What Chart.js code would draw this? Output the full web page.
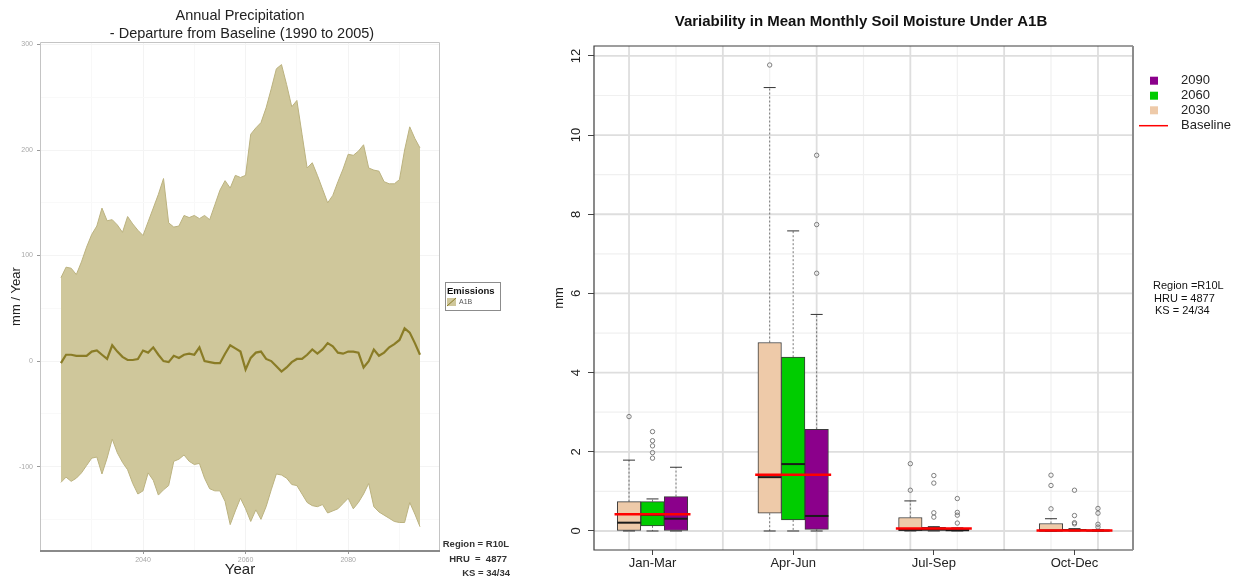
<!DOCTYPE html>
<html>
<head>
<meta charset="utf-8">
<script src="https://cdn.jsdelivr.net/npm/chart.js@4.4.0/dist/chart.umd.min.js"></script>
<style>
  body { margin: 0; background: #fff; width: 1247px; height: 582px; overflow: hidden; position: relative; }
  canvas { position: absolute; top: 0; }
  #precip { left: 0; width: 540px; height: 582px; }
  #soil { left: 540px; width: 707px; height: 582px; }
</style>
</head>
<body>
<canvas id="precip" width="540" height="582"></canvas>
<canvas id="soil" width="707" height="582"></canvas>
<script>
// ---- left chart: annual precipitation departure (A1B) ----
const years = [2024, 2025, 2026, 2027, 2028, 2029, 2030, 2031, 2032, 2033, 2034, 2035, 2036, 2037, 2038, 2039,
  2040, 2041, 2042, 2043, 2044, 2045, 2046, 2047, 2048, 2049, 2050, 2051, 2052, 2053, 2054, 2055, 2056, 2057,
  2058, 2059, 2060, 2061, 2062, 2063, 2064, 2065, 2066, 2067, 2068, 2069, 2070, 2071, 2072, 2073, 2074, 2075,
  2076, 2077, 2078, 2079, 2080, 2081, 2082, 2083, 2084, 2085, 2086, 2087, 2088, 2089, 2090, 2091, 2092, 2093, 2094]
const upperA1B = [79, 89, 88, 82, 94, 108, 120, 128, 145, 133, 134, 129, 122, 137, 130, 124,
  119, 132, 145, 158, 173, 131, 127, 128, 138, 136, 138, 135, 138, 134, 148, 162, 171, 164,
  176, 174, 176, 215, 221, 226, 240, 258, 277, 281, 262, 241, 247, 215, 183, 188, 176, 163,
  150, 157, 170, 182, 196, 195, 199, 205, 183, 181, 180, 170, 168, 168, 172, 200, 222, 211, 202]
const meanA1B = [-2, 6, 6, 5, 5, 5, 9, 10, 6, 2, 15, 9, 4, 1, 1, 2,
  10, 8, 13, 6, 0, -1, 5, 3, 6, 7, 6, 13, 0, -1, -2, -2, 7, 15,
  12, 9, -8, 3, 8, 9, 2, 0, -5, -10, -6, -1, 2, 2, 6, 11, 7, 11,
  17, 14, 8, 7, 9, 9, 8, -6, 0, 11, 5, 8, 13, 16, 20, 31, 27, 17, 6]
const lowerA1B = [-115, -110, -114, -111, -106, -99, -92, -91, -107, -92, -74, -87, -96, -103, -116, -126,
  -123, -106, -113, -127, -122, -118, -95, -93, -89, -95, -98, -97, -111, -121, -123, -123, -133, -155,
  -142, -130, -140, -152, -141, -150, -138, -122, -107, -108, -111, -117, -118, -126, -134, -137, -138, -136,
  -144, -142, -140, -135, -130, -140, -134, -126, -116, -138, -143, -146, -149, -152, -153, -153, -134, -145, -157]
const precipXTicks = [2030, 2040, 2050, 2060, 2070, 2080, 2090]
const precipYTicks = [-150, -100, -50, 0, 50, 100, 150, 200, 250, 300]

// ---- right chart: soil moisture box plots ----
const seasons = ['Jan-Mar', 'Apr-Jun', 'Jul-Sep', 'Oct-Dec']
const periods = ['2030', '2060', '2090']
const whiskLo2030 = [0, 0, 0, 0]
const q1_2030 = [0, 0.45, 0, 0]
const med2030 = [0.21, 1.36, 0.03, 0.01]
const q3_2030 = [0.74, 4.76, 0.34, 0.19]
const whiskHi2030 = [1.79, 11.2, 0.76, 0.31]
const out2030 = [[2.89], [11.77], [1.70, 1.03], [1.41, 1.15, 0.56]]
const whiskLo2060 = [0, 0, 0, 0]
const q1_2060 = [0.13, 0.28, 0, 0]
const med2060 = [0.41, 1.69, 0.04, 0.02]
const q3_2060 = [0.74, 4.39, 0.09, 0.04]
const whiskHi2060 = [0.81, 7.58, 0.11, 0.06]
const out2060 = [[2.51, 2.28, 2.15, 1.98, 1.84], [], [1.40, 1.21, 0.46, 0.35], [1.03, 0.39, 0.21, 0.18]]
const whiskLo2090 = [0, 0, 0, 0]
const q1_2090 = [0, 0.04, 0, 0]
const med2090 = [0.31, 0.38, 0.02, 0.01]
const q3_2090 = [0.87, 2.57, 0.05, 0.02]
const whiskHi2090 = [1.61, 5.47, 0.08, 0.03]
const out2090 = [[], [9.49, 7.74, 6.51], [0.82, 0.47, 0.40, 0.20], [0.57, 0.45, 0.17, 0.10]]
const baseline = [0.42, 1.42, 0.06, 0.01]
const soilYTicks = [0, 2, 4, 6, 8, 10, 12]

Chart.defaults.font.family = '"Liberation Sans", Arial, sans-serif'
Chart.defaults.animation = false

// ================= left chart =================
const toXY = (vals) => years.map((yr, i) => ({ x: yr, y: vals[i] }))

const precipDeco = {
  id: 'precipDeco',
  afterDraw(chart) {
    const ctx = chart.ctx
    const a = chart.chartArea
    ctx.save()
    // panel border
    ctx.strokeStyle = '#c4c4c4'
    ctx.lineWidth = 1
    ctx.beginPath()
    ctx.moveTo(a.left + 0.5, a.bottom)
    ctx.lineTo(a.left + 0.5, a.top + 0.5)
    ctx.lineTo(a.right - 0.5, a.top + 0.5)
    ctx.lineTo(a.right - 0.5, a.bottom)
    ctx.stroke()
    ctx.strokeStyle = '#8a8a8a'
    ctx.lineWidth = 2
    ctx.beginPath()
    ctx.moveTo(a.left, a.bottom)
    ctx.lineTo(a.right, a.bottom)
    ctx.stroke()

    // title
    ctx.fillStyle = '#222'
    ctx.textAlign = 'center'
    ctx.textBaseline = 'middle'
    ctx.font = '14.5px "Liberation Sans", Arial, sans-serif'
    ctx.fillText('Annual Precipitation', 240, 16)
    ctx.fillText('- Departure from Baseline (1990 to 2005)', 242, 34)

    // legend box
    ctx.strokeStyle = '#8c8c8c'
    ctx.lineWidth = 1
    ctx.strokeRect(445.5, 282.5, 55, 28)
    ctx.textAlign = 'left'
    ctx.fillStyle = '#111'
    ctx.font = 'bold 9.5px "Liberation Sans", Arial, sans-serif'
    ctx.fillText('Emissions', 447, 291)
    ctx.fillStyle = '#cfc79b'
    ctx.fillRect(447, 298, 9, 8)
    ctx.strokeStyle = '#8a7c26'
    ctx.beginPath()
    ctx.moveTo(447, 306)
    ctx.lineTo(456, 298)
    ctx.stroke()
    ctx.fillStyle = '#555'
    ctx.font = '7px "Liberation Sans", Arial, sans-serif'
    ctx.fillText('A1B', 459, 302.5)

    // notes
    ctx.fillStyle = '#333'
    ctx.textAlign = 'right'
    ctx.font = 'bold 9.5px "Liberation Sans", Arial, sans-serif'
    ctx.fillText('Region = R10L', 509, 544)
    ctx.fillText('HRU  =  4877', 507, 559)
    ctx.fillText('KS = 34/34', 510, 573)
    ctx.restore()
  }
}

new Chart(document.getElementById('precip'), {
  type: 'line',
  data: {
    datasets: [
      {
        label: 'upper',
        data: toXY(upperA1B),
        borderColor: '#bbb27f',
        borderWidth: 1,
        backgroundColor: '#cfc79b',
        fill: { target: 2 },
        pointRadius: 0,
        order: 2
      },
      {
        label: 'A1B',
        data: toXY(meanA1B),
        borderColor: '#8a7c26',
        borderWidth: 2.2,
        fill: false,
        pointRadius: 0,
        order: 0
      },
      {
        label: 'lower',
        data: toXY(lowerA1B),
        borderColor: '#bbb27f',
        borderWidth: 1,
        fill: false,
        pointRadius: 0,
        order: 1
      }
    ]
  },
  options: {
    responsive: false,
    layout: { padding: { top: 42, right: 100, left: 0, bottom: 0 } },
    plugins: { legend: { display: false }, tooltip: { enabled: false } },
    scales: {
      x: {
        type: 'linear',
        min: 2019.92,
        max: 2097.9,
        afterBuildTicks: (s) => { s.ticks = precipXTicks.map(v => ({ value: v })) },
        afterFit: (s) => { s.height = 31 },
        ticks: {
          callback: (v) => (v % 20 === 0 ? String(v) : ''),
          font: { size: 7 },
          color: '#a8a8a8',
          padding: 2,
          maxRotation: 0,
          autoSkip: false
        },
        grid: {
          color: (c) => (c.tick && c.tick.value % 20 === 0 ? '#f3f3f3' : '#f8f8f8'),
          tickColor: (c) => (c.tick && c.tick.value % 20 === 0 ? '#999' : 'rgba(0,0,0,0)'),
          tickLength: 3
        },
        border: { display: false },
        title: { display: true, text: 'Year', font: { size: 15 }, color: '#222', padding: { top: 0, bottom: 3 } }
      },
      y: {
        min: -180,
        max: 302.4,
        afterBuildTicks: (s) => { s.ticks = precipYTicks.map(v => ({ value: v })) },
        afterFit: (s) => { s.width = 40 },
        ticks: {
          callback: (v) => (v % 100 === 0 ? String(v) : ''),
          font: { size: 7 },
          color: '#a8a8a8',
          padding: 4
        },
        grid: {
          color: (c) => (c.tick && c.tick.value % 100 === 0 ? '#f4f4f4' : '#f9f9f9'),
          tickColor: (c) => (c.tick && c.tick.value % 100 === 0 ? '#999' : 'rgba(0,0,0,0)'),
          tickLength: 3
        },
        border: { display: false },
        title: { display: true, text: 'mm / Year', font: { size: 13 }, color: '#222', padding: { top: 9, bottom: 0 } }
      }
    }
  },
  plugins: [precipDeco]
})

// ================= right chart =================
const offsets = [-0.167, 0, 0.167]
const boxColors = ['#eecaa9', '#00cc00', '#8b008b']
const boxW = 23.5
const stats = [
  { lo: whiskLo2030, q1: q1_2030, med: med2030, q3: q3_2030, hi: whiskHi2030, out: out2030 },
  { lo: whiskLo2060, q1: q1_2060, med: med2060, q3: q3_2060, hi: whiskHi2060, out: out2060 },
  { lo: whiskLo2090, q1: q1_2090, med: med2090, q3: q3_2090, hi: whiskHi2090, out: out2090 }
]

const boxSets = stats.map((s, p) => ({
  type: 'bar',
  label: periods[p],
  data: seasons.map((_, i) => ({ x: i + offsets[p], y: [s.q1[i], s.q3[i]] })),
  backgroundColor: boxColors[p],
  borderColor: '#3a3a3a',
  borderWidth: 1,
  borderSkipped: false,
  barThickness: boxW,
  grouped: false,
  order: 2
}))
const outlierSets = stats.map((s, p) => ({
  type: 'scatter',
  label: periods[p] + ' outliers',
  data: s.out.flatMap((vals, i) => vals.map(v => ({ x: i + offsets[p], y: v }))),
  pointRadius: 2.2,
  pointBackgroundColor: 'rgba(0,0,0,0)',
  pointBorderColor: '#707070',
  pointBorderWidth: 0.9,
  showLine: false,
  order: 1
}))

const soilDeco = {
  id: 'soilDeco',
  beforeDatasetsDraw(chart) {
    const { ctx, chartArea: a, scales: { x, y } } = chart
    ctx.save()
    // light grid first, then stronger grid
    const vMinor = [0.167, 0.833, 1.5, 2.167, 2.833]
    const vMajor = [-0.167, 0.5, 1.167, 1.833, 2.5, 3.167]
    ctx.strokeStyle = '#f0f0f0'
    ctx.lineWidth = 1.2
    vMinor.forEach(v => {
      const px = x.getPixelForValue(v)
      ctx.beginPath(); ctx.moveTo(px, a.top); ctx.lineTo(px, a.bottom); ctx.stroke()
    })
    for (let v = 1; v <= 11; v += 2) {
      const py = y.getPixelForValue(v)
      ctx.beginPath(); ctx.moveTo(a.left, py); ctx.lineTo(a.right, py); ctx.stroke()
    }
    ctx.strokeStyle = '#dedede'
    ctx.lineWidth = 1.8
    vMajor.forEach(v => {
      const px = x.getPixelForValue(v)
      ctx.beginPath(); ctx.moveTo(px, a.top); ctx.lineTo(px, a.bottom); ctx.stroke()
    })
    soilYTicks.forEach(v => {
      const py = y.getPixelForValue(v)
      ctx.beginPath(); ctx.moveTo(a.left, py); ctx.lineTo(a.right, py); ctx.stroke()
    })
    ctx.restore()
  },
  afterDatasetsDraw(chart) {
    const { ctx, scales: { x, y } } = chart
    ctx.save()
    stats.forEach((s, p) => {
      seasons.forEach((_, i) => {
        const cx = x.getPixelForValue(i + offsets[p])
        // whiskers
        ctx.strokeStyle = '#555'
        ctx.lineWidth = 0.8
        ctx.setLineDash([2, 2])
        ctx.beginPath()
        ctx.moveTo(cx, y.getPixelForValue(s.q3[i]))
        ctx.lineTo(cx, y.getPixelForValue(s.hi[i]))
        ctx.moveTo(cx, y.getPixelForValue(s.q1[i]))
        ctx.lineTo(cx, y.getPixelForValue(s.lo[i]))
        ctx.stroke()
        ctx.setLineDash([])
        ctx.strokeStyle = '#333'
        ctx.lineWidth = 1
        ctx.beginPath()
        ctx.moveTo(cx - 6, y.getPixelForValue(s.hi[i]))
        ctx.lineTo(cx + 6, y.getPixelForValue(s.hi[i]))
        ctx.moveTo(cx - 6, y.getPixelForValue(s.lo[i]))
        ctx.lineTo(cx + 6, y.getPixelForValue(s.lo[i]))
        ctx.stroke()
        // median
        ctx.strokeStyle = '#1a1a1a'
        ctx.lineWidth = 2
        ctx.beginPath()
        ctx.moveTo(cx - boxW / 2, y.getPixelForValue(s.med[i]))
        ctx.lineTo(cx + boxW / 2, y.getPixelForValue(s.med[i]))
        ctx.stroke()
      })
    })
    // baseline
    ctx.strokeStyle = '#ff0000'
    ctx.lineWidth = 2.5
    baseline.forEach((v, i) => {
      const py = y.getPixelForValue(v)
      ctx.beginPath()
      ctx.moveTo(x.getPixelForValue(i - 0.27), py)
      ctx.lineTo(x.getPixelForValue(i + 0.27), py)
      ctx.stroke()
    })
    ctx.restore()
  },
  afterDraw(chart) {
    const { ctx, chartArea: a } = chart
    ctx.save()
    // box around plot
    ctx.strokeStyle = '#3c3c3c'
    ctx.lineWidth = 1.2
    ctx.beginPath()
    ctx.moveTo(a.right, a.top); ctx.lineTo(a.left, a.top); ctx.lineTo(a.left, a.bottom); ctx.lineTo(a.right, a.bottom)
    ctx.stroke()
    ctx.strokeStyle = '#8c8c8c'
    ctx.lineWidth = 2
    ctx.beginPath(); ctx.moveTo(a.right, a.top); ctx.lineTo(a.right, a.bottom); ctx.stroke()

    // title
    ctx.fillStyle = '#111'
    ctx.textAlign = 'center'
    ctx.textBaseline = 'middle'
    ctx.font = 'bold 15px "Liberation Sans", Arial, sans-serif'
    ctx.fillText('Variability in Mean Monthly Soil Moisture Under A1B', 321, 22)

    // legend
    ctx.font = '13px "Liberation Sans", Arial, sans-serif'
    ctx.textAlign = 'left'
    const rows = [[2, 80.7], [1, 95.7], [0, 110.3]]
    rows.forEach(([p, ly]) => {
      ctx.fillStyle = boxColors[p]
      ctx.fillRect(610, ly - 4, 8, 8)
      ctx.fillStyle = '#222'
      ctx.fillText(periods[p], 641, ly)
    })
    ctx.strokeStyle = '#ff0000'
    ctx.lineWidth = 1.5
    ctx.beginPath(); ctx.moveTo(599, 125.7); ctx.lineTo(628, 125.7); ctx.stroke()
    ctx.fillStyle = '#222'
    ctx.fillText('Baseline', 641, 125.7)

    // notes
    ctx.font = '11px "Liberation Sans", Arial, sans-serif'
    ctx.fillStyle = '#111'
    ctx.fillText('Region =R10L', 613, 286)
    ctx.fillText('HRU = 4877', 614, 299)
    ctx.fillText('KS = 24/34', 615, 311)
    ctx.restore()
  }
}

new Chart(document.getElementById('soil'), {
  type: 'bar',
  data: { datasets: [...boxSets, ...outlierSets] },
  options: {
    responsive: false,
    layout: { padding: { top: 46, right: 114, left: 0, bottom: 0 } },
    plugins: { legend: { display: false }, tooltip: { enabled: false } },
    scales: {
      x: {
        type: 'linear',
        offset: false,
        min: -0.416,
        max: 3.416,
        afterBuildTicks: (s) => { s.ticks = seasons.map((_, i) => ({ value: i })) },
        afterFit: (s) => { s.height = 32 },
        ticks: {
          callback: (v) => seasons[v],
          font: { size: 13 },
          color: '#222',
          padding: 1,
          maxRotation: 0,
          autoSkip: false
        },
        grid: { offset: false, drawOnChartArea: false, tickLength: 5, color: '#444' },
        border: { display: false }
      },
      y: {
        min: -0.48,
        max: 12.25,
        afterBuildTicks: (s) => { s.ticks = soilYTicks.map(v => ({ value: v })) },
        afterFit: (s) => { s.width = 54 },
        ticks: {
          font: { size: 13 },
          color: '#222',
          padding: 4,
          minRotation: 90,
          maxRotation: 90,
          crossAlign: 'center'
        },
        grid: { drawOnChartArea: false, tickLength: 6, color: '#444' },
        border: { display: false },
        title: { display: true, text: 'mm', font: { size: 13 }, color: '#222', padding: { top: 12, bottom: 0 } }
      }
    }
  },
  plugins: [soilDeco]
})
</script>
</body>
</html>
